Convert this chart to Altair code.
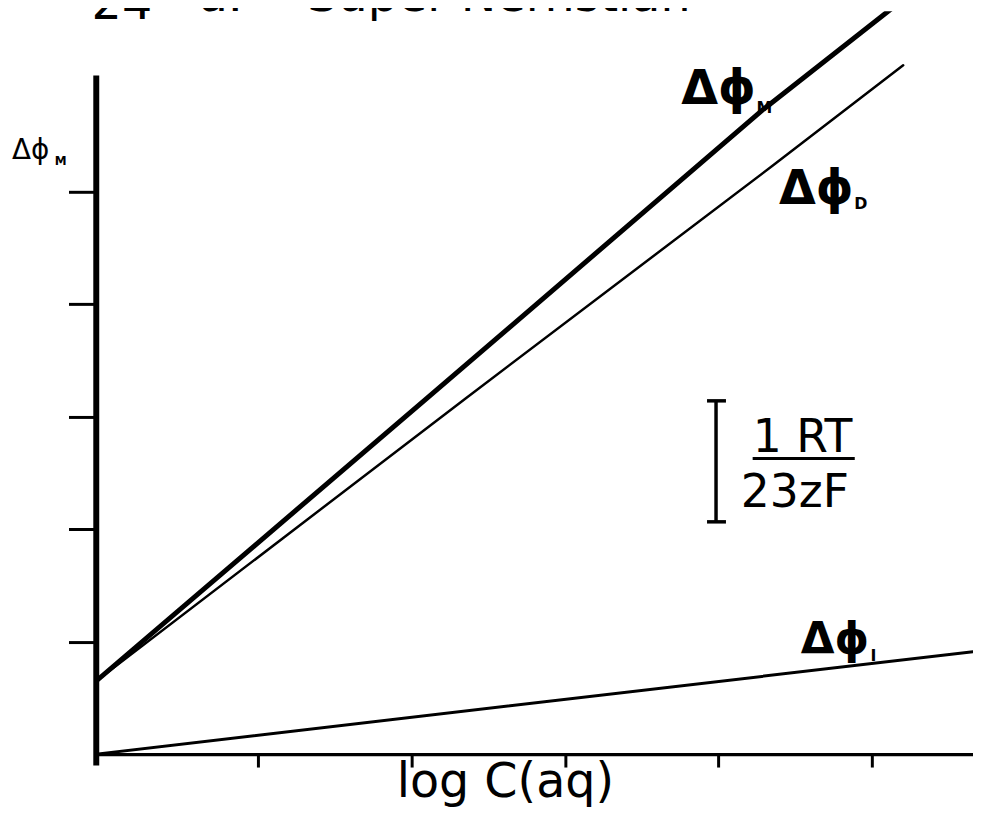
import altair as alt
import pandas as pd

# ---- data (x: log C(aq) units, y: potential units) ----
phiM_x = [0.0, 2.13, 4.30, 5.14]
phiM_y = [0.65, 3.16, 5.73, 6.64]
phiD_x = [0.0, 2.38, 4.36, 5.20]
phiD_y = [0.65, 3.16, 5.23, 6.12]
phiI_x = [0.0, 5.65]
phiI_y = [0.0, 0.91]

x_ticks = [1.04, 2.03, 3.02, 4.01, 5.0]
y_ticks = [1, 2, 3, 4, 5]

FONT = "DejaVu Sans"

def df(xs, ys):
    return pd.DataFrame({"x": xs, "y": ys})

X = alt.X("x:Q", scale=alt.Scale(domain=[0, 5.65], nice=False, zero=False),
          axis=alt.Axis(values=x_ticks, labels=False, title=None, grid=False,
                        tickSize=13, tickWidth=3, tickColor="black",
                        domainColor="black", domainWidth=3.5))
Y = alt.Y("y:Q", scale=alt.Scale(domain=[0, 6.6], nice=False, zero=False),
          axis=alt.Axis(values=y_ticks, labels=False, title=None, grid=False,
                        tickSize=28, tickWidth=3, tickColor="black", domain=False))

def line(d, w):
    return alt.Chart(d).mark_line(color="black", strokeWidth=w, strokeCap="round",
                                  clip=True).encode(x=X, y=Y)

layers = [
    line(df(phiM_x, phiM_y), 5),
    line(df(phiD_x, phiD_y), 2.5),
    line(df(phiI_x, phiI_y), 3),
    # y axis line
    alt.Chart(pd.DataFrame({"x": [0.0], "y": [-0.1], "y2": [6.03]}))
      .mark_rule(color="black", strokeWidth=6).encode(x=X, y=Y, y2="y2:Q"),
    # scale bar (I-beam)
    alt.Chart(pd.DataFrame({"x": [3.994], "y": [2.064], "y2": [3.139]}))
      .mark_rule(color="black", strokeWidth=3.5).encode(x=X, y=Y, y2="y2:Q"),
    alt.Chart(pd.DataFrame({"x": [3.936, 3.936], "x2": [4.058, 4.058], "y": [2.064, 3.139]}))
      .mark_rule(color="black", strokeWidth=3.5).encode(x=X, x2="x2:Q", y=Y),
    # fraction bar
    alt.Chart(pd.DataFrame({"x": [4.23], "x2": [4.888], "y": [2.626]}))
      .mark_rule(color="black", strokeWidth=3).encode(x=X, x2="x2:Q", y=Y),
]

# annotations: text, x, y, size, weight
annotations = [
    ("24", -0.03, 6.535, 48, "normal"),
    ("a.", 0.66, 6.60, 48, "normal"),
    ("Super-Nernstian", 1.36, 6.60, 48, "normal"),
    ("Δϕ", -0.543, 5.286, 28, "normal"),
    ("M", -0.268, 5.233, 12, "bold"),
    ("Δϕ", 3.77, 5.78, 48, "bold"),
    ("M", 4.255, 5.70, 16, "bold"),
    ("Δϕ", 4.40, 4.89, 48, "bold"),
    ("D", 4.885, 4.84, 16, "bold"),
    ("Δϕ", 4.54, 0.89, 44, "bold"),
    ("I", 4.99, 0.83, 16, "bold"),
    ("1 RT", 4.23, 2.683, 46, "normal"),
    ("23zF", 4.153, 2.194, 46, "normal"),
    ("log C(aq)", 1.936, -0.379, 48, "normal"),
]

for t, ax, ay, sz, wt in annotations:
    layers.append(
        alt.Chart(pd.DataFrame({"x": [ax], "y": [ay], "t": [t]}))
        .mark_text(align="left", baseline="alphabetic", font=FONT, fontSize=sz,
                   fontWeight=wt, color="black")
        .encode(x=X, y=Y, text="t:N")
    )

chart = alt.layer(*layers).properties(
    width=884, height=749, autosize="none",
    padding={"left": 89, "top": 0, "right": 0, "bottom": 54},
    background="white",
).configure_view(stroke=None)

chart.save("out.html", embed_options={"renderer": "svg", "actions": False})
